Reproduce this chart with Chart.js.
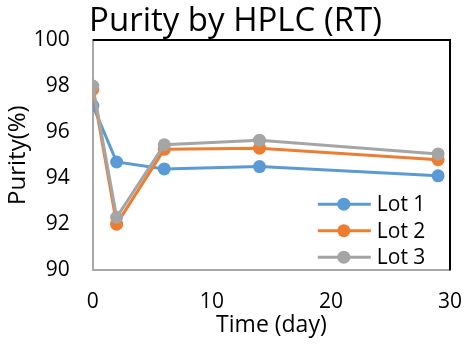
<!DOCTYPE html>
<html>
<head>
<meta charset="UTF-8">
<title>Purity by HPLC (RT)</title>
<script src="https://cdn.jsdelivr.net/npm/chart.js"></script>
<style>
  html, body { margin: 0; padding: 0; background: #fff; }
  #wrap { width: 467px; height: 345px; }
</style>
</head>
<body>
<div id="wrap"><canvas id="chart" width="467" height="345"></canvas></div>
<script>
  const days = [0, 2, 6, 14, 29];
  const lot1 = [97.15, 94.7, 94.4, 94.5, 94.1];
  const lot2 = [97.85, 92.0, 95.25, 95.3, 94.8];
  const lot3 = [98.0, 92.3, 95.45, 95.65, 95.05];
  const xTicks = [0, 10, 20, 30];
  const yTicks = [90, 92, 94, 96, 98, 100];

  const font = "'Open Sans', 'Liberation Sans', sans-serif";
  const toPoints = vals => vals.map((v, i) => ({ x: days[i], y: v }));

  // black frame on top and right of the plot, legend inside bottom-right
  const extras = {
    id: 'extras',
    afterDraw(chart) {
      const { ctx, chartArea: a } = chart;
      ctx.save();
      ctx.strokeStyle = '#000';
      ctx.lineWidth = 2;
      ctx.beginPath();
      ctx.moveTo(a.left, a.top);
      ctx.lineTo(a.right, a.top);
      ctx.lineTo(a.right, a.bottom);
      ctx.stroke();

      ctx.font = "21px " + font;
      ctx.textBaseline = 'middle';
      chart.data.datasets.forEach((ds, i) => {
        const y = a.bottom - 66 + i * 26.5;
        const x0 = a.left + 225;
        ctx.strokeStyle = ds.borderColor;
        ctx.lineWidth = 3;
        ctx.beginPath();
        ctx.moveTo(x0, y);
        ctx.lineTo(x0 + 53, y);
        ctx.stroke();
        ctx.fillStyle = ds.borderColor;
        ctx.beginPath();
        ctx.arc(x0 + 26, y, 6.5, 0, Math.PI * 2);
        ctx.fill();
        ctx.fillStyle = '#000';
        ctx.fillText(ds.label, x0 + 59, y + 1);
      });
      ctx.restore();
    }
  };

  new Chart(document.getElementById('chart'), {
    type: 'line',
    data: {
      datasets: [
        { label: 'Lot 1', data: toPoints(lot1), borderColor: '#5B9BD5', backgroundColor: '#5B9BD5', order: 2 },
        { label: 'Lot 2', data: toPoints(lot2), borderColor: '#ED7D31', backgroundColor: '#ED7D31', order: 1 },
        { label: 'Lot 3', data: toPoints(lot3), borderColor: '#A5A5A5', backgroundColor: '#A5A5A5', order: 0 }
      ]
    },
    options: {
      responsive: false,
      animation: false,
      layout: { padding: { left: 4, right: 0, top: 0, bottom: 6 } },
      elements: {
        line: { borderWidth: 3, tension: 0 },
        point: { radius: 6.5, borderWidth: 0, hoverRadius: 6.5 }
      },
      scales: {
        x: {
          type: 'linear',
          min: 0, max: 30,
          afterBuildTicks: s => { s.ticks = xTicks.map(v => ({ value: v })); },
          afterFit: s => { s.height -= 22; s.paddingRight = 17; },
          grid: { display: false, drawTicks: false },
          border: { color: '#A8A8A8', width: 2 },
          ticks: { color: '#000', font: { family: font, size: 21 }, padding: 19 },
          title: { display: true, text: 'Time (day)', color: '#000', font: { family: font, size: 23 }, padding: { top: 0, bottom: 0 } }
        },
        y: {
          min: 90, max: 100,
          afterBuildTicks: s => { s.ticks = yTicks.map(v => ({ value: v })); },
          afterFit: s => { s.width -= 22; },
          grid: { display: false, drawTicks: false },
          border: { color: '#A8A8A8', width: 2 },
          ticks: { color: '#000', font: { family: font, size: 21 }, padding: 23 },
          title: { display: true, text: 'Purity(%)', color: '#000', font: { family: font, size: 24 }, padding: { top: 0, bottom: 0 } }
        }
      },
      plugins: {
        legend: { display: false },
        tooltip: { enabled: false },
        title: {
          display: true,
          text: 'Purity by HPLC (RT)',
          color: '#000',
          font: { family: font, size: 33, weight: 'normal', lineHeight: 1.0 },
          padding: { top: 5, bottom: 2 }
        }
      }
    },
    plugins: [extras]
  });
</script>
</body>
</html>
